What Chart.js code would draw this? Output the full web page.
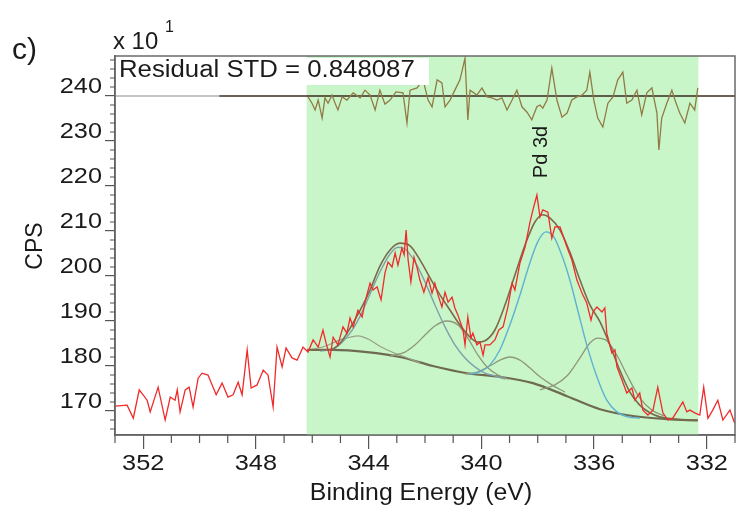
<!DOCTYPE html>
<html>
<head>
<meta charset="utf-8">
<script src="https://cdn.jsdelivr.net/npm/chart.js@4.4.1/dist/chart.umd.min.js"></script>
<style>
  body { margin: 0; background: #fff; }
  #wrap { width: 743px; height: 518px; }
</style>
</head>
<body>
<div id="wrap"><canvas id="c" width="743" height="518"></canvas></div>
<script>
// measured spectrum (CPS / 10)
var energy = [352.99,352.57,352.35,352.14,351.86,351.75,351.47,351.22,351.04,350.87,
  350.79,350.69,350.51,350.37,350.23,350.05,349.91,349.70,349.41,349.20,
  348.99,348.81,348.63,348.49,348.31,348.17,347.96,347.74,347.57,347.39,
  347.25,347.07,346.93,346.72,346.54,346.33,346.15,
  345.97,345.79,345.62,345.51,345.37,345.26,345.09,344.91,344.77,344.66,
  344.55,344.38,344.23,344.13,343.95,343.84,343.70,343.56,343.42,343.31,
  343.17,343.06,342.96,342.82,342.74,342.67,342.60,342.50,342.39,342.28,
  342.18,342.04,341.89,341.75,341.65,341.54,341.40,341.29,341.18,341.04,
  340.94,340.83,340.65,340.58,340.48,340.37,340.30,340.16,340.05,339.94,
  339.87,339.70,339.52,339.38,339.23,339.06,
  338.91,338.81,338.63,338.45,338.28,338.17,338.03,337.92,337.82,337.64,
  337.50,337.39,337.21,337.11,336.96,336.79,336.61,336.43,336.26,336.11,
  336.04,335.90,335.72,335.62,335.55,335.37,335.26,335.19,335.01,334.84,
  334.66,334.55,334.38,334.27,334.09,333.91,333.74,333.56,333.38,333.21,
  333.03,332.85,332.71,332.60,332.43,332.25,332.11,331.96,331.79,331.61,
  331.43,331.18,331.01];
var cps = [171.1,171.3,168.4,174.7,172.4,169.8,175.3,168.0,173.1,172.4,
  174.7,169.8,174.7,175.3,170.9,177.3,178.4,178.0,173.6,176.2,
  173.1,173.6,176.4,173.6,183.6,175.1,175.8,179.1,178.0,170.9,
  184.2,179.8,184.0,181.8,181.3,184.2,183.1,
  185.8,184.2,188.0,185.1,182.0,186.4,184.7,188.7,187.3,190.7,
  188.7,192.4,190.9,194.2,198.4,196.9,197.6,194.7,200.7,203.1,
  202.0,205.1,202.4,206.2,204.7,210.2,203.6,198.7,204.2,201.8,
  199.1,196.4,199.6,196.2,198.4,195.8,193.1,196.4,194.2,195.3,
  192.9,191.3,188.0,184.7,190.9,186.2,187.3,184.7,185.3,182.4,
  184.7,184.7,185.8,188.0,188.7,193.1,
  198.4,196.9,202.9,206.4,211.8,214.7,218.0,213.1,214.7,214.2,
  208.4,210.9,210.9,209.1,206.4,203.6,199.1,196.2,194.0,190.2,
  192.0,193.1,192.0,192.9,187.3,182.9,183.6,179.8,176.9,174.0,
  175.1,172.4,174.0,170.2,169.1,170.2,175.3,169.6,168.0,168.4,
  170.2,172.0,169.8,170.2,169.6,169.1,175.3,168.4,170.2,172.4,
  168.0,170.2,167.3];

// fit envelope
var envEnergy = [346.18,345.37,345.01,344.66,344.30,343.95,343.60,343.24,342.89,342.53,
  342.18,341.82,341.47,341.11,340.76,340.40,340.12,339.87,339.52,339.16,
  338.81,338.45,338.10,337.82,337.57,337.21,336.86,336.50,336.15,335.79,
  335.44,335.09,334.73,334.38,334.02,333.67,332.96,332.32];
var envelope = [183.6,183.6,185.1,188.4,192.4,196.9,202.2,205.8,207.3,206.7,
  203.6,199.6,195.8,192.4,189.1,186.4,185.3,185.6,188.0,193.6,
  200.2,206.9,212.0,213.6,212.9,210.2,205.3,199.1,193.6,189.8,
  184.7,179.1,174.2,171.3,169.6,168.7,168.1,168.0];

// Shirley background
var bgEnergy = [346.18,345.26,344.06,342.89,341.72,340.51,339.34,338.17,336.96,335.79,334.62,333.42,332.32];
var background = [183.6,183.6,183.1,182.0,180.0,178.4,177.6,176.2,173.3,170.4,168.9,168.2,167.9];

// components
var p32Energy = [345.72,345.19,344.66,344.30,343.95,343.60,343.24,342.96,342.71,342.35,342.00,341.65,341.29,340.94,340.58,340.23,339.87,339.52,339.16];
var p32 = [183.3,184.0,187.3,191.1,196.0,200.9,204.9,206.4,206.0,203.1,198.7,193.6,188.7,184.7,181.8,179.8,178.4,177.8,177.1];
var sat341Energy = [343.24,342.71,342.35,342.00,341.65,341.22,340.83,340.48,340.12,339.77,339.41,339.06];
var sat341 = [182.2,183.1,184.7,186.9,188.9,190.0,189.1,186.2,182.4,179.6,178.0,177.1];
var sat344Energy = [346.08,345.55,345.01,344.66,344.38,344.02,343.60,343.17,342.71,342.18];
var sat344 = [183.6,184.4,185.8,186.4,186.7,186.0,184.4,183.1,182.0,180.7];
var p52Energy = [340.40,340.05,339.70,339.34,338.99,338.63,338.28,338.00,337.71,337.43,337.15,336.86,336.58,336.26,335.90,335.55,335.19,334.80,334.38];
var p52 = [178.2,178.7,180.2,183.6,189.1,195.8,202.9,207.6,209.8,208.7,204.7,199.1,192.4,184.7,177.6,172.4,169.8,168.7,168.4];
var sat339Energy = [340.58,340.12,339.70,339.34,338.99,338.63,338.28,337.92,337.50,337.04];
var sat339 = [178.2,178.7,180.0,181.3,182.0,181.3,179.6,177.6,175.8,174.2];
var sat336Energy = [337.92,337.39,336.93,336.50,336.15,335.87,335.55,335.19,334.80,334.38,333.95,333.49];
var sat336 = [174.7,175.8,178.0,181.8,185.1,186.2,185.6,182.4,177.6,172.9,170.2,168.9];

// residual (same units, around its own zero)
var resEnergy = [346.15,346.01,345.90,345.79,345.65,345.55,345.44,345.30,345.19,345.09,
  344.94,344.77,344.55,344.30,344.13,343.95,343.77,343.60,343.42,343.24,
  343.03,342.78,342.64,342.53,342.28,342.07,341.89,341.75,341.57,341.40,
  341.29,341.11,340.94,340.76,340.58,340.48,340.40,340.16,339.98,339.80,
  339.62,339.45,339.27,339.09,338.91,338.74,338.56,338.38,338.21,338.03,
  337.92,337.82,337.67,337.50,337.32,337.14,336.96,336.79,336.61,336.43,
  336.26,336.15,336.01,335.87,335.69,335.51,335.33,335.16,334.98,334.84,
  334.66,334.48,334.31,334.13,333.95,333.77,333.70,333.60,333.42,333.24,
  333.13,332.96,332.78,332.60,332.43,332.32];
var residual = [-0.2,-1.6,-3.1,-0.9,-4.9,-0.4,-1.6,0.2,-1.6,-3.1,
  -0.2,-0.9,0.7,-0.4,1.3,0.2,-3.1,1.3,-1.8,-0.9,
  0.9,0.7,-6.0,1.3,1.8,3.6,-0.9,-2.4,3.6,2.9,
  -2.4,-0.9,1.3,3.6,8.4,-5.3,1.3,0.2,1.8,-0.2,
  -0.4,-0.9,-0.4,-3.1,-0.9,1.3,-2.4,-3.6,-5.3,-2.4,
  -2.0,-2.7,-0.9,6.2,-0.9,-4.7,-3.8,-0.9,-0.2,0.2,
  1.3,5.3,-0.9,-4.9,-6.9,-1.6,-0.2,3.6,5.3,-1.6,
  -0.9,1.3,-4.2,0.7,1.8,-3.8,-12.0,-4.9,-1.6,1.3,
  -0.9,-3.8,-6.0,-1.6,-3.1,1.8];
var zeroEnergy = [349.3, 331.0];
var zeroLeftEnergy = [353.0, 349.3];

var regionFrom = 346.2, regionTo = 332.3;
var xTicks = [352, 348, 344, 340, 336, 332];
var yTicks = [170, 180, 190, 200, 210, 220, 230, 240];

function pts(xs, ys) {
  return xs.map(function(x, i) { return { x: x, y: ys[i] }; });
}
function flat(xs, v) {
  return xs.map(function(x) { return { x: x, y: v }; });
}

var FONT = 'Arial, "Liberation Sans", sans-serif';
var INK = '#1a1a1a';

// the original figure is a little stretched sideways, so text gets an x scale
function text(c, s, x, y, size, sx, align, rot) {
  c.save();
  c.fillStyle = INK;
  c.font = size + 'px ' + FONT;
  c.textAlign = align || 'left';
  c.textBaseline = 'middle';
  c.translate(x, y);
  if (rot) c.rotate(rot);
  c.scale(sx, 1);
  c.fillText(s, 0, 0);
  c.restore();
}

var decor = {
  id: 'decor',
  beforeDatasetsDraw: function(chart) {
    var c = chart.ctx, a = chart.chartArea, xs = chart.scales.x;
    var x1 = xs.getPixelForValue(regionFrom), x2 = xs.getPixelForValue(regionTo);
    c.save();
    c.fillStyle = '#c8f6c9';
    c.fillRect(x1, a.top, x2 - x1, a.bottom - a.top);
    c.restore();
  },
  afterDatasetsDraw: function(chart) {
    var c = chart.ctx, a = chart.chartArea, xs = chart.scales.x, ys = chart.scales.y;
    c.save();
    c.fillStyle = '#fff';
    c.fillRect(a.left + 2, a.top + 2, 312, 27);
    c.strokeStyle = '#6a6a6a';
    c.lineWidth = 1.5;
    c.strokeRect(a.left, a.top, a.right - a.left, a.bottom - a.top);
    // minor ticks
    c.strokeStyle = '#555';
    c.lineWidth = 1.2;
    c.beginPath();
    for (var e = 331; e <= 353; e++) {
      if (xTicks.indexOf(e) >= 0) continue;
      var px = xs.getPixelForValue(e);
      c.moveTo(px, a.bottom); c.lineTo(px, a.bottom + 8);
    }
    for (var v = 166; v <= 248; v += 2) {
      if (yTicks.indexOf(v) >= 0) continue;
      var py = ys.getPixelForValue(v);
      c.moveTo(a.left - 5, py); c.lineTo(a.left, py);
    }
    c.stroke();
    c.restore();

    text(c, 'Residual STD = 0.848087', a.left + 4, a.top + 15, 23, 1.12, 'left');
    text(c, 'Pd 3d', xs.getPixelForValue(337.85), 152, 20, 1, 'center', -Math.PI / 2);

    xs.ticks.forEach(function(t) {
      text(c, String(t.value), xs.getPixelForValue(t.value), a.bottom + 29, 22, 1.15, 'center');
    });
    ys.ticks.forEach(function(t) {
      text(c, String(t.value), a.left - 13, ys.getPixelForValue(t.value) - 9, 22, 1.15, 'right');
    });
    text(c, 'Binding Energy (eV)', (a.left + a.right) / 2 - 4, 494, 23, 1.08, 'center');
    text(c, 'CPS', 36, 246, 23, 1, 'center', -Math.PI / 2);
    text(c, 'c)', 12, 51, 30, 1, 'left');
    text(c, 'x 10', 113, 43, 23, 1.04, 'left');
    text(c, '1', 165, 28, 16, 1, 'left');
  }
};

function line(data, color, width, axis, smooth) {
  return {
    data: data, borderColor: color, borderWidth: width, pointRadius: 0,
    fill: false, yAxisID: axis || 'y',
    tension: smooth ? 0.4 : 0, cubicInterpolationMode: smooth ? 'monotone' : 'default'
  };
}

new Chart(document.getElementById('c').getContext('2d'), {
  type: 'line',
  data: {
    datasets: [
      line(pts(energy, cps), '#f02a2a', 1.3),
      line(pts(envEnergy, envelope), '#7c6a4a', 1.6, 'y', true),
      line(pts(resEnergy, residual), '#927a45', 1.3, 'yRes'),
      line(pts(p32Energy, p32), '#7fa1aa', 1.4, 'y', true),
      line(pts(sat341Energy, sat341), '#8f9878', 1.3, 'y', true),
      line(pts(sat344Energy, sat344), '#9aa08a', 1.2, 'y', true),
      line(pts(p52Energy, p52), '#5fb2cf', 1.4, 'y', true),
      line(pts(sat339Energy, sat339), '#8f9878', 1.3, 'y', true),
      line(pts(sat336Energy, sat336), '#8f9878', 1.3, 'y', true),
      line(pts(bgEnergy, background), '#6f6b52', 2.2, 'y', true),
      line(flat(zeroEnergy, 0), '#3b2a1e', 1.6, 'yRes'),
      line(flat(zeroLeftEnergy, 0), '#8a8a8a', 1.2, 'yRes')
    ]
  },
  options: {
    responsive: false,
    animation: false,
    devicePixelRatio: 1,
    layout: { padding: { left: 0, right: 8, top: 56, bottom: 0 } },
    plugins: { legend: { display: false }, tooltip: { enabled: false } },
    scales: {
      x: {
        type: 'linear', reverse: true, min: 331.0, max: 353.0,
        afterFit: function(s) { s.height = 83; },
        border: { display: true, color: '#555', width: 1.5 },
        grid: { display: true, drawOnChartArea: false, tickLength: 14, color: '#555', lineWidth: 1.2 },
        ticks: { display: false, stepSize: 4, includeBounds: false, autoSkip: false }
      },
      y: {
        type: 'linear', min: 164.67, max: 248.89,
        afterFit: function(s) { s.width = 115; },
        border: { display: true, color: '#555', width: 1.5 },
        grid: { display: true, drawOnChartArea: false, tickLength: 10, color: '#555', lineWidth: 1.2 },
        ticks: { display: false, stepSize: 10, includeBounds: false, autoSkip: false }
      },
      yRes: {
        type: 'linear', display: false, min: -75.33, max: 8.89
      }
    }
  },
  plugins: [decor]
});
</script>
</body>
</html>
